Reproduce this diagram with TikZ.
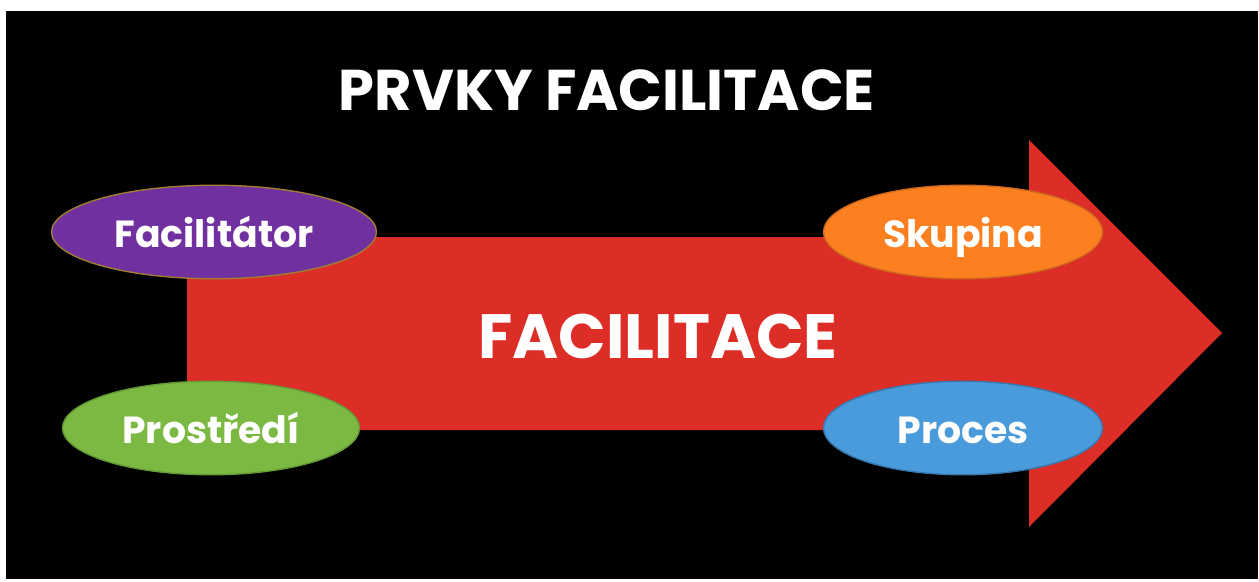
\documentclass[tikz,border=0pt]{standalone}
\usepackage{fontspec}
\setmainfont{Poppins}
\usepackage{tikz}
\usetikzlibrary{shapes.geometric,positioning}
\definecolor{redi}{RGB}{221,45,39}
\definecolor{purplei}{RGB}{112,48,160}
\definecolor{purpleo}{RGB}{160,125,50}
\definecolor{greeni}{RGB}{124,185,66}
\definecolor{greeno}{RGB}{100,155,55}
\definecolor{orangei}{RGB}{253,128,32}
\definecolor{orangeo}{RGB}{205,105,30}
\definecolor{bluei}{RGB}{74,155,219}
\definecolor{blueo}{RGB}{55,120,175}
\tikzset{
          prvek/.style={
            ellipse,inner sep=0pt,line width=0.8pt,
            minimum height=1.87cm,
            text=white,font=\fontsize{21.5}{26}\selectfont\bfseries,
            text height=18pt,text depth=0pt
          },
          nadpis/.style={text=white,anchor=base,
            font=\fontsize{32.7}{38}\selectfont\bfseries},
          sipka/.style={fill=redi}
        }
\newcommand\Prvek[6]{%
          \node[prvek,fill=#3,draw=#4,minimum width=#5]
          (#1) at #2 {#6};
        }

\begin{document}
\begin{tikzpicture}[x=0.02cm,y=-0.02cm]

            \fill[white] (0,0) rectangle (1259,582);
            \fill[black] (6,11) rectangle (1258,579);

            \node[nadpis] (titul) at (607,110) {PRVKY FACILITACE};

            % the big arrow
            \fill[sipka] (187,237) -- (1029,237) -- (1029,140)
              -- (1222,333) -- (1029,527) -- (1029,430)
              -- (187,430) -- cycle;
            \node[nadpis,font=\fontsize{35.6}{42}\selectfont\bfseries]
              (stred) at (658,358) {FACILITACE};

            \Prvek{fac}{(214,232)}{purplei}{purpleo}{6.5cm}{Facilitátor}
            \Prvek{pro}{(211,428)}{greeni}{greeno}{5.94cm}{Prostředí}
            \Prvek{sku}{(963,232)}{orangei}{orangeo}{5.58cm}{Skupina}
            \Prvek{proc}{(963,428)}{bluei}{blueo}{5.58cm}{Proces}

          \end{tikzpicture}
\end{document}
